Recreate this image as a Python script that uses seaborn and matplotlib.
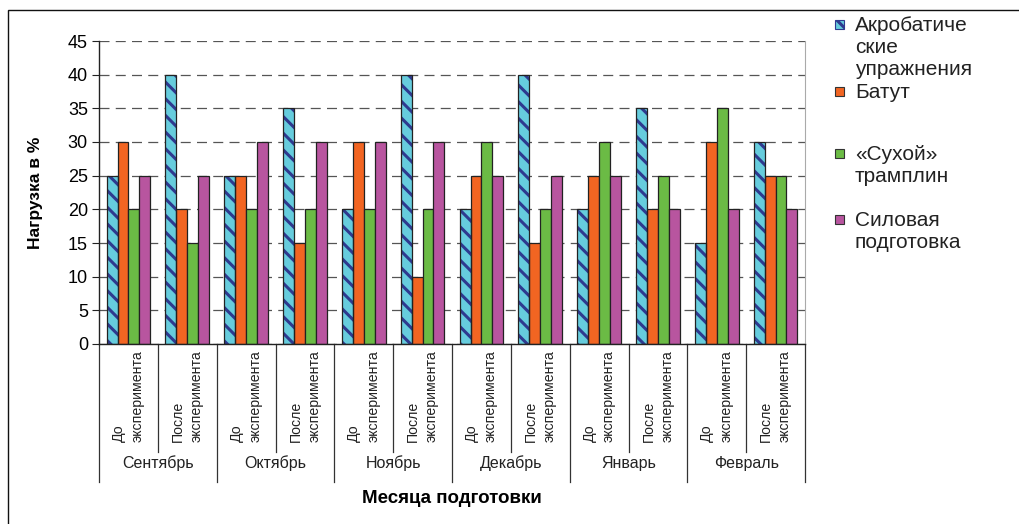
import matplotlib
matplotlib.use("Agg")
import numpy as np
import pandas as pd
import seaborn as sns
import matplotlib.pyplot as plt
from matplotlib.patches import Rectangle
import matplotlib.transforms as mtransforms

# ---------------- data ----------------
months = ["Сентябрь", "Октябрь", "Ноябрь", "Декабрь", "Январь", "Февраль"]
phases = ["До\nэксперимента", "После\nэксперимента"]
series = ["Акробатические упражнения", "Батут", "«Сухой» трамплин", "Силовая подготовка"]
legend_labels = ["Акробатиче\nские\nупражнения", "Батут", "«Сухой»\nтрамплин", "Силовая\nподготовка"]

acro = [25, 40, 25, 35, 20, 40, 20, 40, 20, 35, 15, 30]
batut = [30, 20, 25, 15, 30, 10, 25, 15, 25, 20, 30, 25]
dry = [20, 15, 20, 20, 20, 20, 30, 20, 30, 25, 35, 25]
power = [25, 25, 30, 30, 30, 30, 25, 25, 25, 20, 20, 20]

y_label = "Нагрузка в %"
x_label = "Месяца подготовки"
y_ticks = [0, 5, 10, 15, 20, 25, 30, 35, 40, 45]

colors = ["#66CCDD", "#F26522", "#6BBB45", "#B8559F"]
stripe_color = "#2E3A8F"

# ---------------- table ----------------
positions = [f"{m}|{p}" for m in months for p in phases]
values = [acro, batut, dry, power]
rows = []
for s, vals in zip(series, values):
    for pos, v in zip(positions, vals):
        rows.append({"pos": pos, "series": s, "value": v})
df = pd.DataFrame(rows)

plt.rcParams["font.family"] = ["Liberation Sans", "DejaVu Sans"]
plt.rcParams["hatch.linewidth"] = 2.2

W, H = 1019, 524
fig = plt.figure(figsize=(W / 100, H / 100), dpi=100)
ax = fig.add_axes([99 / W, 1 - 344 / H, (805 - 99) / W, (344 - 41) / H])

sns.barplot(data=df, x="pos", y="value", hue="series", order=positions,
            hue_order=series, palette=colors, saturation=1, width=0.74,
            edgecolor="#222222", linewidth=0.9, errorbar=None, legend=False, ax=ax)

# striped acrobatics bars
for bar in ax.containers[0]:
    bar.set_hatch("\\\\")
    bar.set_edgecolor(stripe_color)
    bar.set_linewidth(0)
    outline = Rectangle(bar.get_xy(), bar.get_width(), bar.get_height(), fill=False,
                        edgecolor="#222222", lw=0.9, zorder=bar.get_zorder() + 0.1)
    ax.add_patch(outline)

ax.set_xlim(-0.5, len(positions) - 0.5)
ax.set_ylim(0, 45)
ax.set_yticks(y_ticks)
ax.set_yticklabels([str(t) for t in y_ticks])
ax.tick_params(axis="y", direction="out", length=5, width=0.8, labelsize=13, pad=3,
               color="#222222")
ax.tick_params(axis="x", length=0, labelbottom=False)

ax.set_axisbelow(True)
ax.yaxis.grid(True, linestyle=(0, (8, 5)), color="#555555", lw=0.9)
ax.xaxis.grid(False)

for side in ["left", "bottom"]:
    ax.spines[side].set_color("#222222")
    ax.spines[side].set_linewidth(1.0)
ax.spines["right"].set_color("#AAAAAA")
ax.spines["top"].set_visible(False)

ax.set_xlabel(x_label, fontsize=13.5, fontweight="bold")
ax.xaxis.set_label_coords(0.5, -0.482)
ax.set_ylabel(y_label, fontsize=12.5, fontweight="bold")
ax.yaxis.set_label_coords(-0.08, 0.5)

# multi-level category axis
trans = mtransforms.blended_transform_factory(ax.transData, ax.transAxes)
for k in range(len(positions) + 1):
    x = k - 0.5
    bottom = -0.455 if k % 2 == 0 else -0.356
    ax.plot([x, x], [0, bottom], transform=trans, color="#333333", lw=0.9,
            clip_on=False)

for i, pos in enumerate(positions):
    phase = pos.split("|")[1]
    ax.text(i, -0.02, phase, transform=trans, rotation=90, ha="center", va="top",
            multialignment="left", fontsize=10.2, linespacing=1.45, color="#222222")

for j, m in enumerate(months):
    ax.text(2 * j + 0.5, -0.393, m, transform=trans, ha="center", va="center",
            fontsize=11.5, color="#222222")

# legend drawn beside the plot
base_px = [31, 98, 160, 226]
for lab, col, b in zip(legend_labels, colors, base_px):
    cy = b - 7
    sq = Rectangle((835 / W, 1 - (cy + 4.5) / H), 9 / W, 9 / H, transform=fig.transFigure,
                   facecolor=col, edgecolor="#333333", lw=0.8)
    if lab == legend_labels[0]:
        sq.set_hatch("\\\\")
        sq.set_edgecolor(stripe_color)
    fig.add_artist(sq)
    fig.text(855 / W, 1 - (b - 15) / H, lab, ha="left", va="top", fontsize=15,
             linespacing=1.2, color="#222222")

# outer frame
frame = Rectangle((8 / W, -0.5), 2, 1 - 10 / H + 0.5, transform=fig.transFigure,
                  fill=False, edgecolor="#111111", lw=1)
fig.add_artist(frame)

fig.savefig("out.png", dpi=100)
